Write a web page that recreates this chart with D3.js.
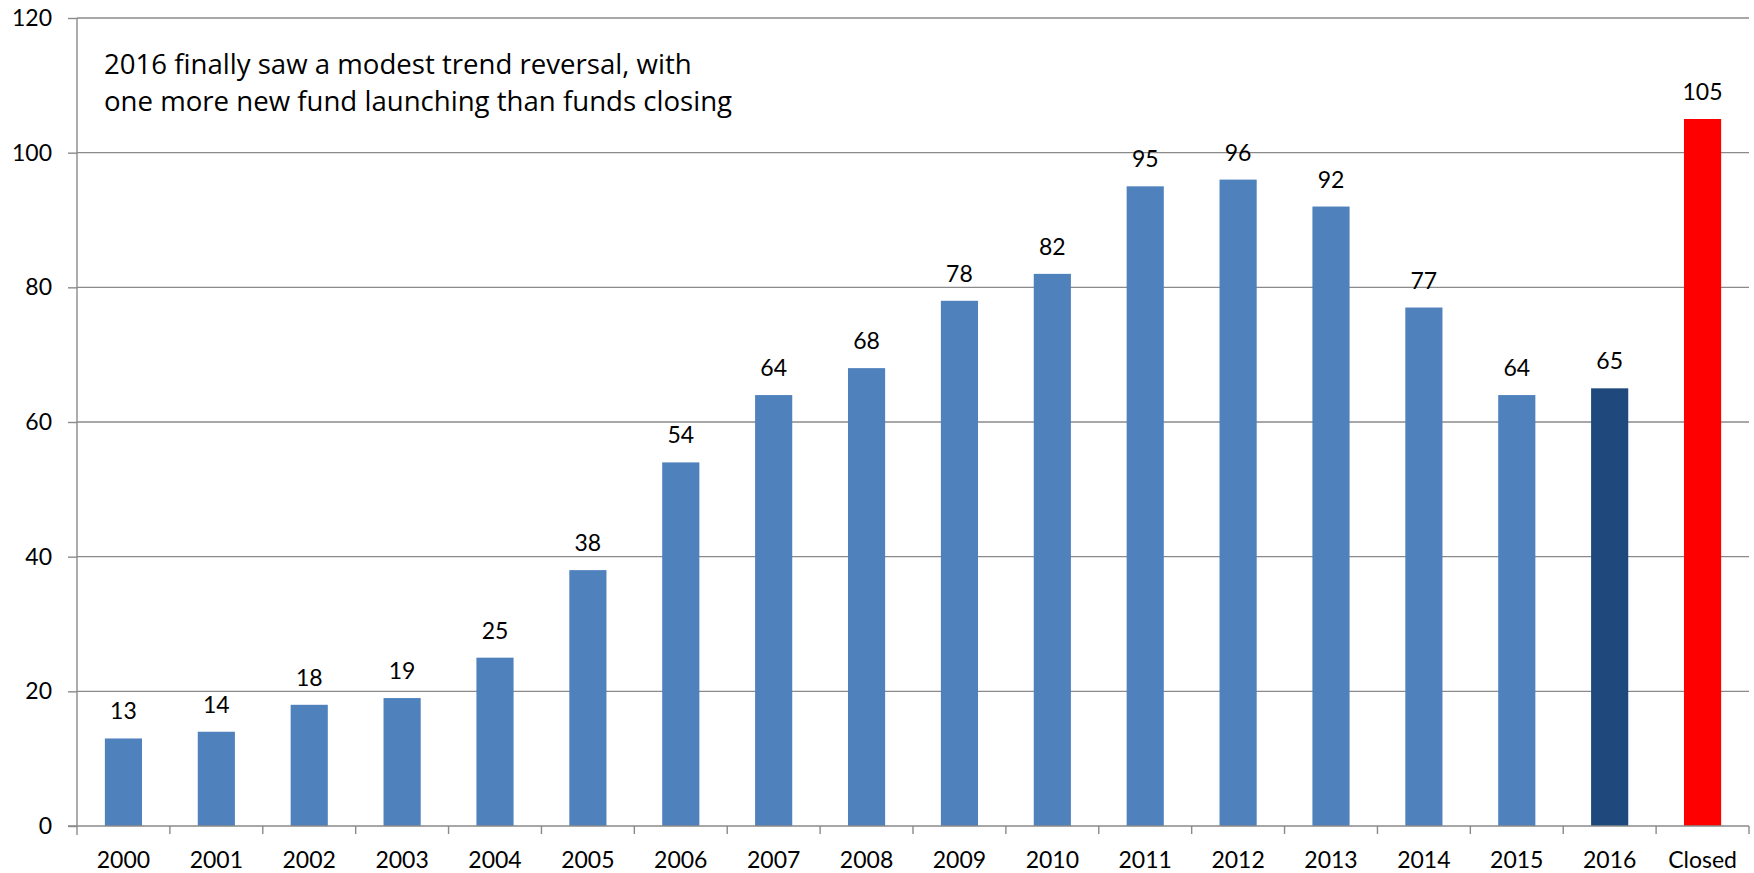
<!DOCTYPE html>
<html>
<head>
<meta charset="utf-8">
<script src="https://cdn.jsdelivr.net/npm/d3@7"></script>
<style>
  html, body { margin: 0; padding: 0; background: #fff; }
  svg { display: block; font-family: Lato, "Open Sans", sans-serif; }
</style>
</head>
<body>
<svg id="chart" width="1754" height="873"></svg>
<script>
// New fund launches per year, plus the count of funds closed
const categories = ["2000","2001","2002","2003","2004","2005","2006","2007","2008",
                    "2009","2010","2011","2012","2013","2014","2015","2016","Closed"];
const values = [13, 14, 18, 19, 25, 38, 54, 64, 68, 78, 82, 95, 96, 92, 77, 64, 65, 105];
const yTicks = [0, 20, 40, 60, 80, 100, 120];
const noteLines = [
  "2016 finally saw a modest trend reversal, with",
  "one more new fund launching than funds closing"
];

const W = 1754, H = 873;
const margin = { top: 18, right: 5, bottom: 47, left: 77 };
const iw = W - margin.left - margin.right;
const ih = H - margin.top - margin.bottom;

const svg = d3.select("#chart");
const g = svg.append("g").attr("transform", `translate(${margin.left},${margin.top})`);

const x = d3.scaleBand().domain(categories).range([0, iw]).paddingInner(0.6).paddingOuter(0.3);
const xEdge = d3.scaleBand().domain(categories).range([0, iw]);
const y = d3.scaleLinear().domain([0, 120]).range([ih, 0]);

const gridColor = "#8a8a8a";

// Horizontal gridlines
g.append("g").selectAll("line").data(yTicks.filter(d => d > 0)).join("line")
  .attr("x1", 0).attr("x2", iw)
  .attr("y1", d => y(d)).attr("y2", d => y(d))
  .attr("stroke", gridColor).attr("stroke-width", 1.4);

// Y axis
const yAxis = g.append("g").call(d3.axisLeft(y).tickValues(yTicks).tickSize(9).tickPadding(16));
yAxis.select(".domain").attr("stroke", gridColor).attr("stroke-width", 1.4)
  .attr("d", `M0,${ih + 9}V0`);
yAxis.selectAll(".tick line").attr("stroke", gridColor).attr("stroke-width", 1.4);
yAxis.selectAll(".tick text").attr("font-size", 23).attr("fill", "#000")
  .attr("font-family", "Lato, sans-serif");

// Bars
const barColor = (d, i) => categories[i] === "Closed" ? "#ff0000"
  : categories[i] === "2016" ? "#1f497d" : "#4f81bd";
g.append("g").selectAll("rect").data(values).join("rect")
  .attr("x", (d, i) => x(categories[i]))
  .attr("y", d => y(d))
  .attr("width", x.bandwidth())
  .attr("height", d => y(0) - y(d))
  .attr("fill", barColor);

// Value labels
g.append("g").selectAll("text").data(values).join("text")
  .attr("x", (d, i) => x(categories[i]) + x.bandwidth() / 2)
  .attr("y", d => y(d) - 19)
  .attr("text-anchor", "middle")
  .attr("font-size", 23)
  .attr("fill", "#000")
  .text(d => d);

// X axis with ticks at category boundaries
const xa = g.append("g").attr("transform", `translate(0,${ih})`);
xa.append("line").attr("x1", -9).attr("x2", iw).attr("y1", 0).attr("y2", 0)
  .attr("stroke", gridColor).attr("stroke-width", 1.4);
xa.selectAll("line.tk").data(categories).join("line").attr("class", "tk")
  .attr("x1", d => xEdge(d) + xEdge.bandwidth()).attr("x2", d => xEdge(d) + xEdge.bandwidth())
  .attr("y1", 0).attr("y2", 8)
  .attr("stroke", gridColor).attr("stroke-width", 1.4);
xa.selectAll("text").data(categories).join("text")
  .attr("x", d => xEdge(d) + xEdge.bandwidth() / 2)
  .attr("y", 42)
  .attr("text-anchor", "middle")
  .attr("font-size", 23)
  .attr("fill", "#000")
  .text(d => d);

// Annotation
svg.append("text")
  .attr("x", 104).attr("y", 74)
  .attr("font-size", 27.6).attr("fill", "#000")
  .attr("font-family", "'Open Sans', sans-serif")
  .selectAll("tspan").data(noteLines).join("tspan")
  .attr("x", 104).attr("dy", (d, i) => i === 0 ? 0 : 37)
  .text(d => d);
</script>
</body>
</html>
